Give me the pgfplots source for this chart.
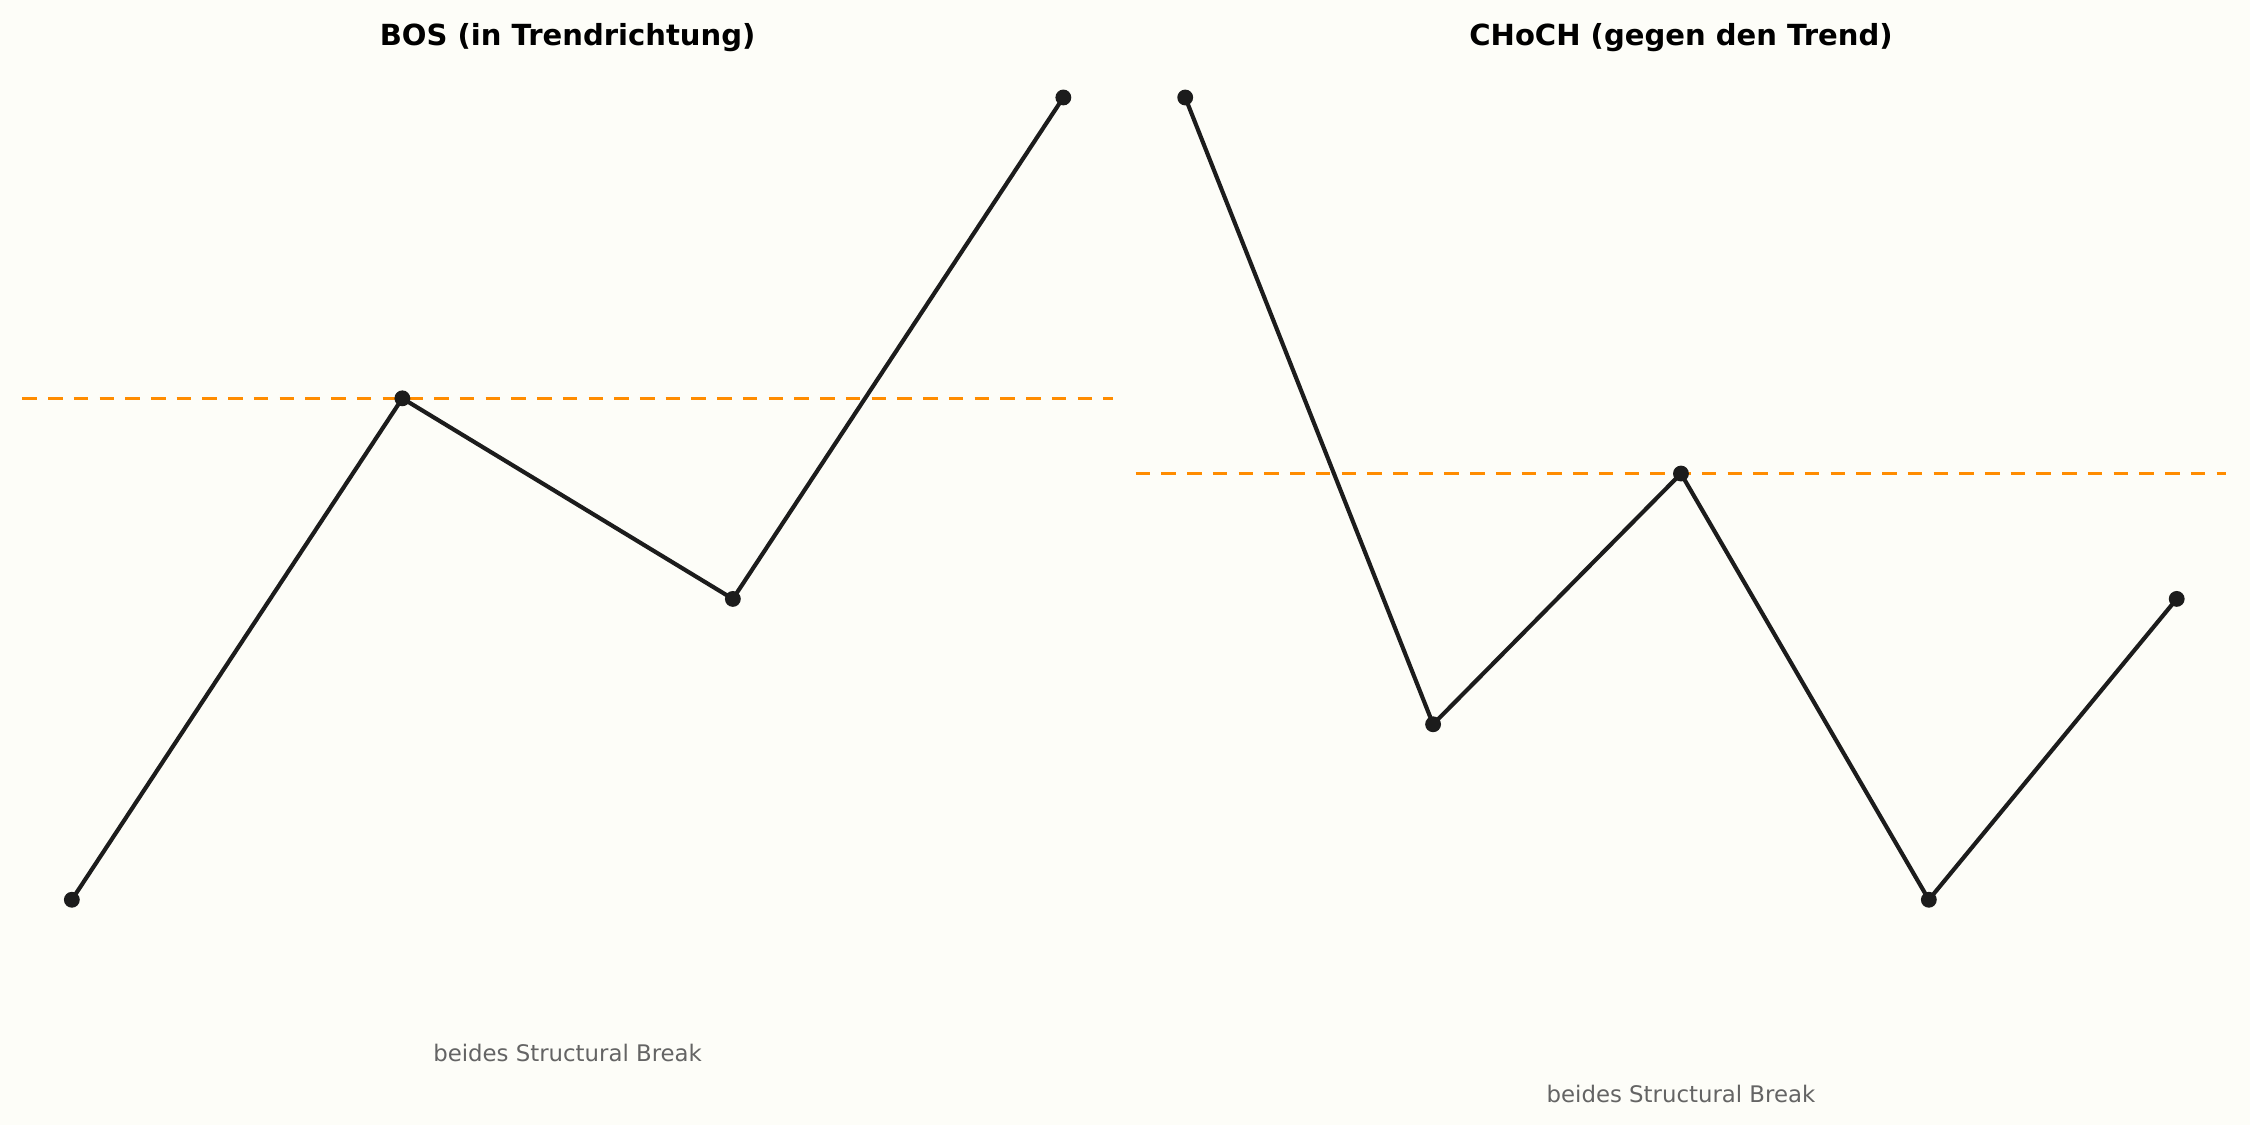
\documentclass[border=0pt]{standalone}
\usepackage{pgfplots}
\pgfplotsset{compat=1.18}
\usepackage{fontspec}
\setmainfont{DejaVu Sans}
\definecolor{bg}{RGB}{253,253,248}
\definecolor{linec}{RGB}{28,28,28}
\definecolor{lvl}{RGB}{255,140,0}
\definecolor{note}{RGB}{100,100,100}

\pgfplotsset{
  swing/.style={
    scale only axis,
    width=523.5bp, height=423.6bp,
    axis lines=none,
    ticks=none,
    clip=false,
    title style={font=\fontsize{14}{16}\selectfont\bfseries, yshift=-7bp},
  },
  path/.style={linec, line width=2pt, mark=*, mark size=2.8pt,
    mark options={fill=linec, draw=linec}},
  level/.style={lvl, line width=1.4pt, dash pattern=on 7pt off 5.4pt},
}

\begin{document}
\begin{tikzpicture}[x=1bp,y=1bp]
\fill[bg] (0,0) rectangle (1080,540);

% linkes Panel: Bruch in Trendrichtung
\begin{axis}[swing, at={(10.7bp,88.85bp)}, anchor=south west,
  xmin=-0.15, xmax=3.15, ymin=0.8, ymax=5.2,
  title={BOS (in Trendrichtung)}]
\addplot[level] coordinates {(-0.15,3.5) (3.15,3.5)};
\addplot[path] coordinates {
  (0, 1.0)
  (1, 3.5)
  (2, 2.5)
  (3, 5.0)
};
\node[note, font=\fontsize{11}{13}\selectfont] at (axis cs:1.5,0.235) {beides Structural Break};
\end{axis}

% rechtes Panel: Bruch gegen den Trend
\begin{axis}[swing, at={(545.1bp,88.85bp)}, anchor=south west,
  xmin=-0.2, xmax=4.2, ymin=1.64, ymax=5.16,
  title={CHoCH (gegen den Trend)}]
\addplot[level] coordinates {(-0.2,3.5) (4.2,3.5)};
\addplot[path] coordinates {
  (0, 5.0)
  (1, 2.5)
  (2, 3.5)
  (3, 1.8)
  (4, 3.0)
};
\node[note, font=\fontsize{11}{13}\selectfont] at (axis cs:2,1.027) {beides Structural Break};
\end{axis}
\end{tikzpicture}
\end{document}
